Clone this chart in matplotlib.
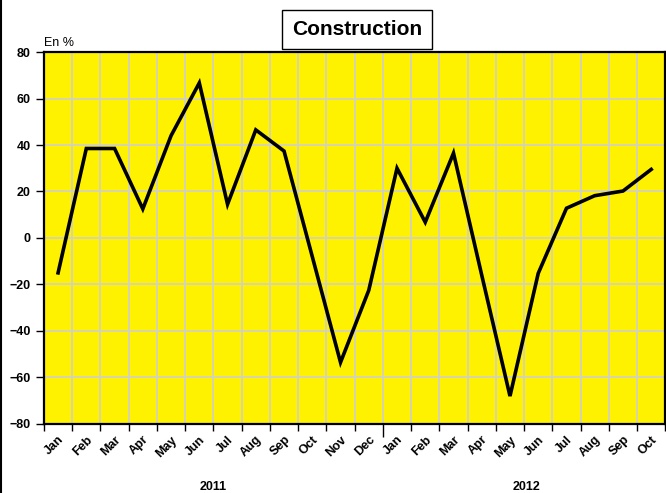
import matplotlib
matplotlib.use("Agg")
import matplotlib.pyplot as plt
import numpy as np

months = ["Jan", "Feb", "Mar", "Apr", "May", "Jun", "Jul", "Aug", "Sep", "Oct", "Nov", "Dec",
          "Jan", "Feb", "Mar", "Apr", "May", "Jun", "Jul", "Aug", "Sep", "Oct"]
values = [-15, 38.5, 38.5, 12.5, 44, 66.7, 14.5, 46.5, 37.4, -8, -53.5, -22.5,
          30, 6.8, 36.5, -16, -68, -15.2, 12.8, 18.2, 20.2, 29.5]
years = ["2011", "2012"]
year_pos = [5.5, 16.6]

plt.rcParams['font.family'] = ['Liberation Sans', 'DejaVu Sans']

def main():
    fig = plt.figure(figsize=(6.66, 4.93), dpi=100)
    ax = fig.add_axes([0.066, 0.140, 0.933, 0.7545])
    ax.set_facecolor('#fff200')

    x = np.arange(len(values))
    ax.plot(x, values, color='black', lw=2.6, solid_joinstyle='miter', zorder=3)

    ax.set_xlim(-0.5, len(values) - 0.5)
    ax.set_ylim(-80, 80)
    ax.set_yticks(np.arange(-80, 81, 20))
    ax.set_xticks(np.arange(-0.5, len(values), 1.0))
    ax.set_xticklabels([])
    ax.set_xticks(x, minor=True)
    ax.set_xticklabels(months, minor=True, rotation=45, ha='right', va='top',
                       rotation_mode='anchor', fontsize=9, fontweight='bold')
    ax.tick_params(axis='x', which='minor', length=0, pad=7)
    ax.tick_params(axis='x', which='major', length=5, width=1, direction='out')
    ax.tick_params(axis='y', length=6, width=1, direction='out', labelsize=9)
    for lab in ax.get_yticklabels():
        lab.set_fontweight('bold')
    ax.xaxis.get_major_ticks()[12].tick1line.set_markersize(9)

    ax.grid(True, which='major', color='#cfcfcf', lw=1.2, zorder=1)
    for s in ax.spines.values():
        s.set_linewidth(1.6)
    ax.set_axisbelow(True)

    for yr, p in zip(years, year_pos):
        ax.text(p, -107, yr, ha='center', va='center', fontsize=9, fontweight='bold')

    ax.text(-0.5, 81.5, "En %", ha='left', va='bottom', fontsize=9)
    fig.text(357 / 666, 1 - 29.5 / 493, "Construction", ha='center', va='center',
             fontsize=15, fontweight='bold',
             bbox=dict(facecolor='white', edgecolor='black', lw=1, pad=7))

    fig.add_artist(plt.Line2D([0.0015, 0.0015], [0, 1], color='black', lw=1.5))
    fig.savefig("out.png", dpi=100)

if __name__ == '__main__':
    main()
